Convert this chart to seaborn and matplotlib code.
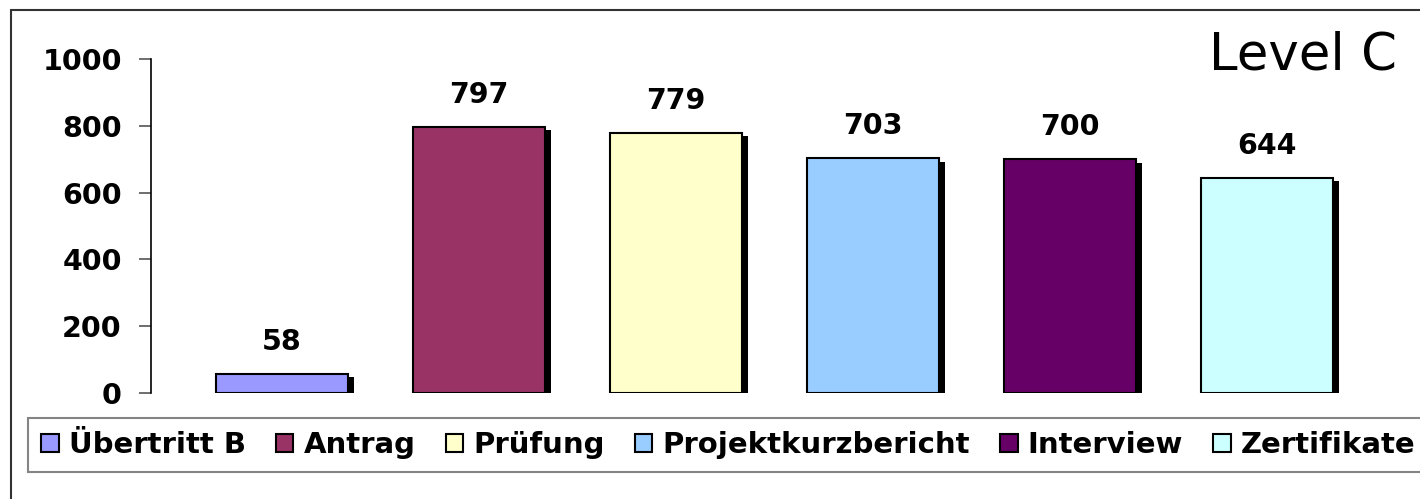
import pandas as pd
import numpy as np
import matplotlib
matplotlib.use('Agg')
import matplotlib.pyplot as plt
import matplotlib.patheffects as pe
from matplotlib.patches import Patch, Rectangle
import seaborn as sns

# 데이터
categories = ['Übertritt B', 'Antrag', 'Prüfung', 'Projektkurzbericht', 'Interview', 'Zertifikate']
values = [58, 797, 779, 703, 700, 644]
colors = ['#9999FF', '#993366', '#FFFFCC', '#99CCFF', '#660066', '#CCFFFF']
y_ticks = [0, 200, 400, 600, 800, 1000]
title = 'Level C'

sns.set_style('white')
plt.rcParams['font.family'] = ['DejaVu Sans']
plt.rcParams['text.color'] = 'black'
plt.rcParams['ytick.color'] = 'black'

df = pd.DataFrame({'cat': categories, 'val': values})

fig = plt.figure(figsize=(14.2, 4.99), dpi=100)
ax = fig.add_axes([151 / 1420, 106 / 499, 1 - 151 / 1420, 334 / 499])

sns.barplot(data=df, x='cat', y='val', hue='cat', palette=colors, order=categories,
            hue_order=categories, width=0.67, edgecolor='black', linewidth=1.5,
            saturation=1, legend=False, ax=ax)

# 그림자 효과
for bar in ax.patches:
    bar.set_path_effects([pe.SimplePatchShadow(offset=(4.5, -2.5), shadow_rgbFace='black', alpha=1.0),
                          pe.Normal()])

# 값 라벨
for bar, v in zip(ax.patches, values):
    ax.annotate(str(v), (bar.get_x() + bar.get_width() / 2, bar.get_height()),
                xytext=(0, 13), textcoords='offset points', ha='center', va='bottom',
                fontsize=20.5, fontweight='bold', color='black')

ax.set_xlim(-0.665, 5.777)
ax.set_ylim(0, 1000)
ax.set_yticks(y_ticks)
ax.set_yticklabels([str(t) for t in y_ticks], fontsize=20.5, fontweight='bold', color='black')
ax.tick_params(axis='y', left=True, length=9, width=1.2, color='#555555', pad=12)
ax.set_xticks([])
ax.set_xlabel('')
ax.set_ylabel('')
for s in ['top', 'right', 'bottom']:
    ax.spines[s].set_visible(False)
ax.spines['left'].set_color('black')
ax.spines['left'].set_linewidth(1.2)
ax.patch.set_alpha(0)

# 제목
fig.text(1397 / 1420, 1 - 69 / 499, title, ha='right', va='baseline', fontsize=37, color='black')

# 범례
handles = [Patch(facecolor=c, edgecolor='black', linewidth=1.5) for c in colors]
leg = fig.legend(handles, categories, loc='upper left', bbox_to_anchor=(28 / 1420, 1 - 418 / 499),
                 ncol=6, frameon=True, fancybox=False, prop={'size': 21, 'weight': 'bold'},
                 handlelength=0.6, handleheight=0.6, handletextpad=0.35, columnspacing=1.03,
                 borderpad=0.45, borderaxespad=0, labelcolor='black')
leg.get_frame().set_edgecolor('#666666')
leg.get_frame().set_linewidth(1.5)

# 바깥 테두리
fig.patches.append(Rectangle((11 / 1420, -0.1), 1.2, 1.1 - 10 / 499, transform=fig.transFigure,
                             fill=False, edgecolor='#333333', linewidth=1.5))

fig.savefig('out.png', dpi=100)
